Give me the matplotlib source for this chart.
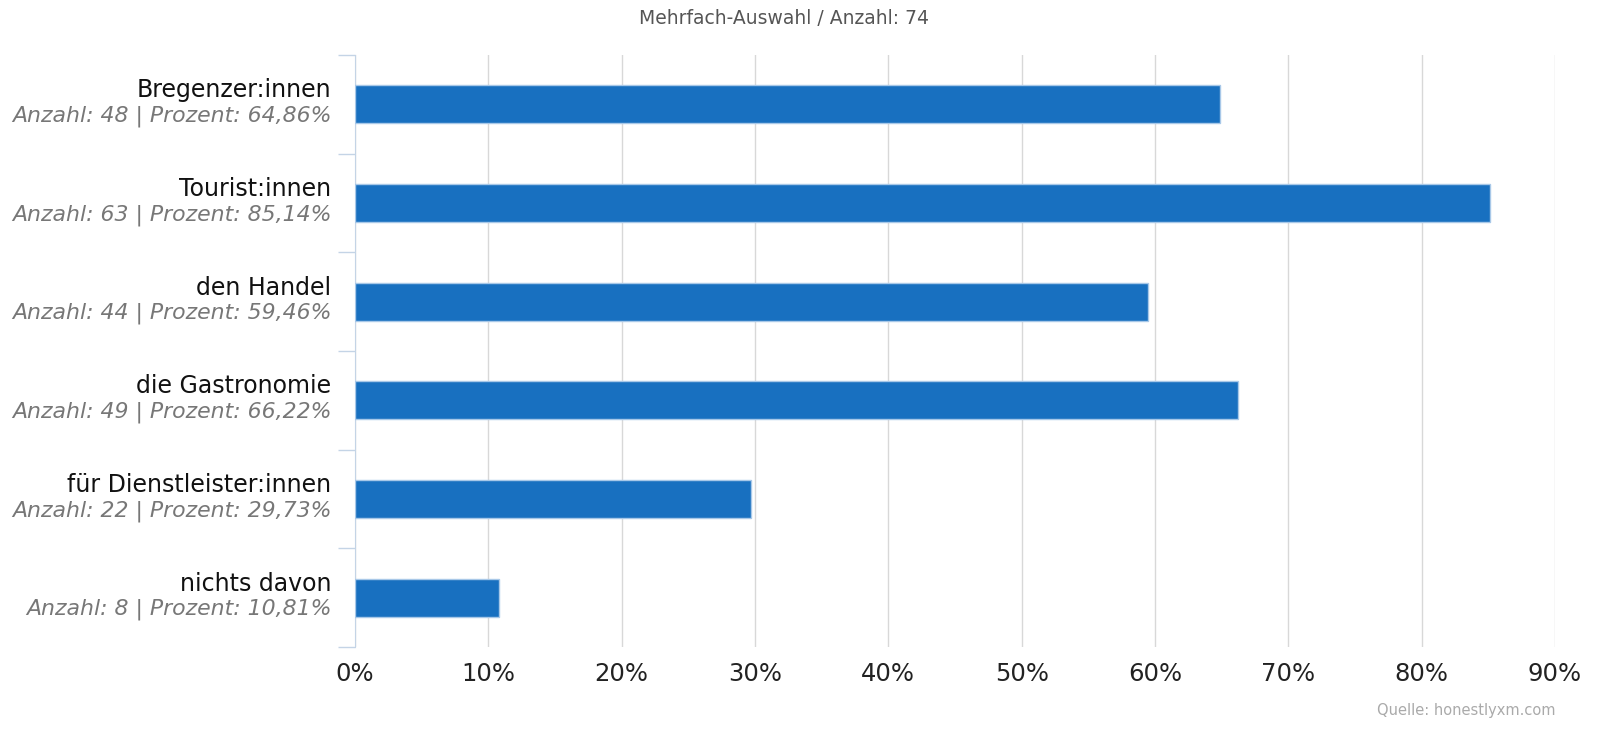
import matplotlib
matplotlib.use("Agg")
import matplotlib.pyplot as plt
import matplotlib.transforms as mtransforms
import numpy as np

# data
categories = ["Bregenzer:innen", "Tourist:innen", "den Handel",
              "die Gastronomie", "für Dienstleister:innen", "nichts davon"]
counts = [48, 63, 44, 49, 22, 8]
percents = [64.86, 85.14, 59.46, 66.22, 29.73, 10.81]
total = 74
x_ticks = [0, 10, 20, 30, 40, 50, 60, 70, 80, 90]

plt.rcParams['font.family'] = ['DejaVu Sans']

fig = plt.figure(figsize=(15.99, 7.33), dpi=100)
ax = fig.add_axes([0.222, 0.1173, 0.7505, 0.8077])

n = len(categories)
ypos = np.arange(n)
ax.barh(ypos, percents, height=0.385, color="#1870c0",
        edgecolor="#a8c8e8", linewidth=1.0, zorder=3)

ax.set_xlim(0, 90)
ax.set_ylim(n - 0.5, -0.5)
ax.set_xticks(x_ticks)
ax.set_xticklabels([f"{t}%" for t in x_ticks], fontsize=17.5, color="#222222")
ax.tick_params(axis="x", length=0, pad=11)
ax.grid(axis="x", color="#d8d8d8", linewidth=1, zorder=0)

# category boundary ticks on the y axis
ax.set_yticks(np.arange(-0.5, n, 1.0))
ax.set_yticklabels([])
ax.tick_params(axis="y", length=12, color="#c4d4e6", width=1)

for s in ["top", "right", "bottom"]:
    ax.spines[s].set_visible(False)
ax.spines["left"].set_color("#c4d4e6")

# two-line category labels
trans = mtransforms.blended_transform_factory(ax.transAxes, ax.transData)
off = mtransforms.offset_copy(trans, fig=fig, x=-17, y=0, units="points")
for i, (cat, c, p) in enumerate(zip(categories, counts, percents)):
    ax.text(0, i - 0.07, cat, transform=off, ha="right", va="baseline",
            fontsize=17, color="#111111")
    pct = f"{p:.2f}".replace(".", ",")
    ax.text(0, i + 0.175, f"Anzahl: {c} | Prozent: {pct}%", transform=off,
            ha="right", va="baseline", fontsize=15.8, style="italic",
            color="#777777")

fig.text(0.49, 0.975, f"Mehrfach-Auswahl / Anzahl: {total}", ha="center",
         va="center", fontsize=13.5, color="#555555")
fig.text(0.9725, 0.031, "Quelle: honestlyxm.com", ha="right", va="center",
         fontsize=10.5, color="#aaaaaa")

fig.savefig("out.png", dpi=100)
